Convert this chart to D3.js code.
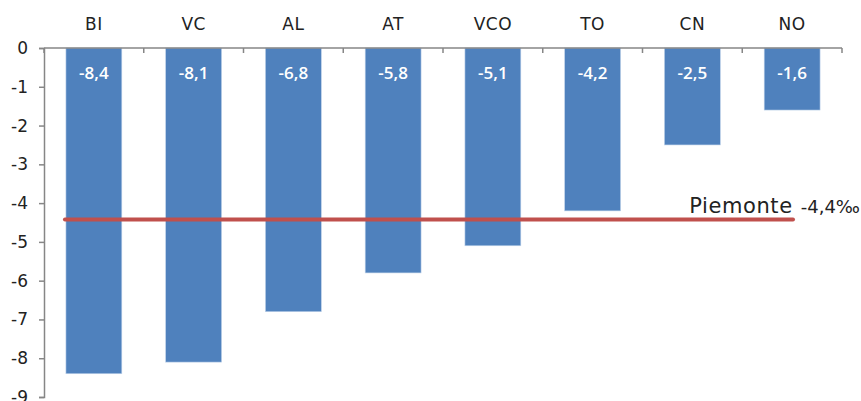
<!DOCTYPE html>
<html>
<head>
<meta charset="utf-8">
<script src="https://cdn.jsdelivr.net/npm/d3@7"></script>
<style>
  body { margin: 0; background: #fff; }
  svg { display: block; }
</style>
</head>
<body>
<div id="chart"></div>
<script>
// province codes and change values (per mille)
const provinces = ["BI", "VC", "AL", "AT", "VCO", "TO", "CN", "NO"];
const values = [-8.4, -8.1, -6.8, -5.8, -5.1, -4.2, -2.5, -1.6];
const yTicks = [0, -1, -2, -3, -4, -5, -6, -7, -8, -9];
const regionName = "Piemonte";
const regionValue = -4.4;

const W = 861, H = 401;
const margin = {top: 48, right: 19, bottom: 4, left: 44};
const width = W - margin.left - margin.right,
      height = H - margin.top - margin.bottom;

const svg = d3.select("#chart").append("svg")
    .attr("width", W)
    .attr("height", H);

const g = svg.append("g").attr("transform", "translate(" + margin.left + "," + margin.top + ")");

const x = d3.scaleBand()
    .domain(provinces)
    .range([0, width])
    .paddingInner(0.44)
    .paddingOuter(0.22);

const y = d3.scaleLinear()
    .domain([0, -9])
    .range([0, 349]);

const axisFont = "'DejaVu Sans', sans-serif";
const fmt = d => d3.format(".1f")(d).replace(".", ",").replace("−", "-");

// bars
g.selectAll("rect.bar")
    .data(values)
    .enter().append("rect")
    .attr("class", "bar")
    .attr("x", (d, i) => x(provinces[i]))
    .attr("y", y(0))
    .attr("width", x.bandwidth())
    .attr("height", d => y(d) - y(0))
    .attr("fill", "#4f81bd")
    .attr("stroke", "#bcd0e8")
    .attr("stroke-width", 0.6);

// value labels inside bars
g.selectAll("text.val")
    .data(values)
    .enter().append("text")
    .attr("class", "val")
    .attr("x", (d, i) => x(provinces[i]) + x.bandwidth() / 2)
    .attr("y", y(0) + 31)
    .attr("text-anchor", "middle")
    .attr("fill", "#fff")
    .style("font-family", "'Open Sans', sans-serif")
    .style("font-weight", 600)
    .style("font-size", "17px")
    .text(fmt);

// y axis
const yAxis = g.append("g")
    .call(d3.axisLeft(y).tickValues(yTicks).tickSize(5).tickFormat(d => d3.format("d")(d).replace("−", "-")));
yAxis.select(".domain").attr("stroke", "#868686").attr("stroke-width", 1.5);
yAxis.selectAll(".tick line").attr("stroke", "#868686").attr("stroke-width", 1.5);
yAxis.selectAll(".tick text")
    .attr("x", -16)
    .attr("fill", "#222")
    .style("font-family", axisFont)
    .style("font-size", "17px");

// x axis at zero with ticks at category boundaries
const bounds = d3.range(provinces.length + 1).map(i => i * width / provinces.length);
g.append("line")
    .attr("x1", 0).attr("x2", width)
    .attr("y1", y(0)).attr("y2", y(0))
    .attr("stroke", "#868686").attr("stroke-width", 1.5);
g.selectAll("line.xtick")
    .data(bounds)
    .enter().append("line")
    .attr("class", "xtick")
    .attr("x1", d => d).attr("x2", d => d)
    .attr("y1", y(0)).attr("y2", y(0) + 5)
    .attr("stroke", "#868686").attr("stroke-width", 1.5);

g.selectAll("text.cat")
    .data(provinces)
    .enter().append("text")
    .attr("class", "cat")
    .attr("x", d => x(d) + x.bandwidth() / 2)
    .attr("y", -18)
    .attr("text-anchor", "middle")
    .attr("fill", "#222")
    .style("font-family", axisFont)
    .style("font-size", "17px")
    .style("letter-spacing", "0.5px")
    .text(d => d);

// regional average line
g.append("line")
    .attr("x1", x(provinces[0]) - 1)
    .attr("x2", 749)
    .attr("y1", y(regionValue) + 1)
    .attr("y2", y(regionValue) + 1)
    .attr("stroke", "#c0504d")
    .attr("stroke-width", 4)
    .attr("stroke-linecap", "round");

const lbl = g.append("text")
    .attr("x", width + margin.right - 1)
    .attr("y", y(regionValue) - 6)
    .attr("text-anchor", "end")
    .attr("fill", "#222")
    .style("font-family", axisFont);
lbl.append("tspan").style("font-size", "21px").style("letter-spacing", "0.6px").text(regionName);
lbl.append("tspan").style("font-size", "18px").attr("dx", 8).text(fmt(regionValue) + "‰");
</script>
</body>
</html>
